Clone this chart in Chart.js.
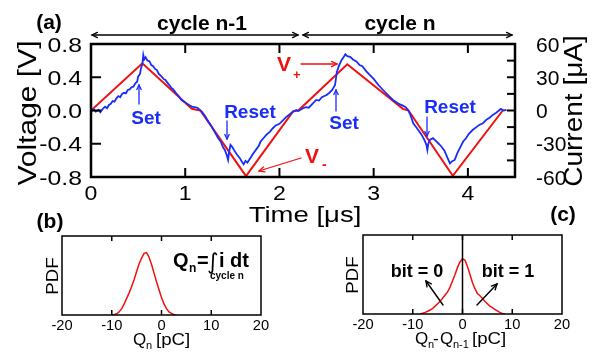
<!DOCTYPE html>
<html lang="en">
<head>
<meta charset="UTF-8">
<title>Voltage / current cycles and charge PDFs</title>
<script src="https://cdn.jsdelivr.net/npm/chart.js"></script>
<style>
    body { margin: 0; background: #fff; }
    .wrap { position: relative; width: 595px; height: 353px; }
    .wrap canvas { position: absolute; left: 0; top: 0; }
</style>
</head>
<body>
<div class="wrap">
    <canvas id="chartA" width="595" height="353"></canvas>
    <canvas id="chartB" width="595" height="353"></canvas>
    <canvas id="chartC" width="595" height="353"></canvas>
</div>
<script>
// ---- data ----
// (a) current trace, time in us, current in uA
const timeI = [0.00, 0.03, 0.05, 0.08, 0.10, 0.12, 0.15, 0.17, 0.19, 0.21, 0.23, 0.25, 0.27, 0.29, 0.31, 0.33, 0.35, 0.37, 0.39, 0.41,
    0.43, 0.45, 0.47, 0.49, 0.50, 0.52, 0.53, 0.545, 0.555, 0.565, 0.58, 0.60, 0.62, 0.64, 0.66, 0.68, 0.70, 0.72, 0.75, 0.77,
    0.79, 0.82, 0.84, 0.855, 0.87, 0.90, 0.93, 0.96, 0.99, 1.02, 1.05, 1.07, 1.10, 1.13, 1.155, 1.18, 1.21, 1.245, 1.27, 1.30,
    1.33, 1.35, 1.38, 1.40, 1.42, 1.44, 1.455, 1.465, 1.48, 1.50, 1.52, 1.55, 1.58, 1.60, 1.62, 1.64, 1.66, 1.69, 1.72, 1.75,
    1.78, 1.80, 1.83, 1.86, 1.90, 1.93, 1.96, 2.00, 2.04, 2.07, 2.10, 2.145, 2.18, 2.20, 2.25, 2.28, 2.31, 2.35, 2.39, 2.42,
    2.45, 2.50, 2.53, 2.56, 2.59, 2.61, 2.63, 2.66, 2.68, 2.70, 2.72, 2.75, 2.78, 2.82, 2.85, 2.88, 2.92, 2.96, 3.00, 3.05,
    3.10, 3.15, 3.205, 3.25, 3.28, 3.31, 3.34, 3.365, 3.39, 3.42, 3.46, 3.51, 3.54, 3.56, 3.57, 3.58, 3.595, 3.63, 3.66, 3.69,
    3.72, 3.75, 3.78, 3.81, 3.83, 3.86, 3.89, 3.92, 3.95, 3.98, 4.01, 4.05, 4.09, 4.12, 4.16, 4.20, 4.23, 4.265, 4.30, 4.33,
    4.35, 4.38, 4.41];
const current = [-1, 1, -1, 0.5, -1.5, 1, 3.5, 2, 5, 6, 8.5, 8, 11, 13, 12, 15, 16, 15.5, 18.5, 19,
    21, 21.5, 24.5, 26, 30.5, 33, 38, 42, 50, 46, 48, 45, 44.5, 41, 40, 37.5, 36.5, 33, 30.5, 28.5,
    27.5, 24, 22, 20, 19.5, 16, 13, 9.5, 8, 6, 4.5, 3.5, 3, 2.5, 0.5, -1.5, -5, -10, -13, -17.5,
    -22, -25, -28.5, -33, -35.6, -40, -44.6, -38, -31, -33, -36, -40, -43, -46, -48.5, -45.5, -47, -43, -39, -35.5,
    -32, -28, -25, -22, -19, -16, -13.5, -12, -8.6, -6, -4, -1, 0.5, -0.5, 2, 3, 2.5, 6, 9.5, 9,
    12, 14, 16, 18.5, 23, 35, 40, 45.6, 48, 50.7, 49, 48.5, 46, 44, 41, 40, 35.5, 32, 28.5, 23,
    18.5, 14, 9.5, 7, 5.5, 4.4, 3, 0.5, -4, -11.5, -16, -22, -27, -31, -35.6, -30, -26.6, -25, -27.5, -30,
    -32.7, -36, -42, -47.7, -46, -44.6, -38, -33, -28, -25, -21, -17.6, -15, -13, -11.5, -8, -6.5, -4, -2, 0,
    1.4, 0, 0.5];
// (a) applied voltage, V
const timeV = [0, 0.545, 1.07, 1.16, 1.645, 2.145, 2.20, 2.72, 3.31, 3.37, 3.84, 4.37];
const voltage = [0, 0.568, 0.02, 0.0, -0.79, -0.01, 0.0, 0.556, 0.02, 0.0, -0.785, 0.0];
const timeTicks = [0, 1, 2, 3, 4];
const voltTicks = [0.8, 0.4, 0.0, -0.4, -0.8];
const voltLabels = ['0.8', '0.4', '0.0', '-0.4', '-0.8'];
const currTicks = [60, 30, 0, -30, -60];
const currMinor = [45, 15, -15, -45];

// (b) PDF of Q_n, (c) PDF of Q_n - Q_n-1 (arbitrary units)
const qBins = [-10, -9.5, -9, -8.5, -8, -7.5, -7, -6.5, -6, -5.5, -5, -4.5, -4, -3.5, -3, -2.5, -2, -1.5, -1, -0.5, 0, 0.5, 1, 1.5, 2, 2.5, 3];
const pdfQ = [0, 0.005, 0.015, 0.04, 0.08, 0.14, 0.21, 0.28, 0.36, 0.45, 0.55, 0.65, 0.72, 0.78, 0.79, 0.73, 0.64, 0.53, 0.42, 0.32, 0.22, 0.14, 0.08, 0.04, 0.02, 0.008, 0];
const dqBins = [-8.5, -8, -7.5, -7, -6.5, -6, -5.5, -5, -4.5, -4, -3.5, -3, -2.5, -2, -1.5, -1, -0.5, 0, 0.5, 1, 1.5, 2, 2.5, 3, 3.5, 4, 4.5, 5, 5.5, 6, 6.5, 7, 7.5, 8, 8.5];
const pdfDq = [0, 0.01, 0.02, 0.035, 0.05, 0.07, 0.10, 0.13, 0.16, 0.20, 0.24, 0.28, 0.34, 0.42, 0.50, 0.59, 0.66, 0.70, 0.68, 0.60, 0.50, 0.40, 0.32, 0.26, 0.23, 0.20, 0.16, 0.13, 0.10, 0.08, 0.06, 0.04, 0.02, 0.008, 0];
const qTicks = [-20, -10, 0, 10, 20];
const qInner = [-10, 0, 10];

const FONT = '"Liberation Sans", Arial, Helvetica, sans-serif';
const BLUE = 'rgb(25,45,250)';
const RED = 'rgb(240,16,16)';

function toXY(xs, ys) { return xs.map((v, i) => ({ x: v, y: ys[i] })); }

// text with optional horizontal stretch and rotation
function txt(ctx, s, x, y, o) {
    ctx.save();
    ctx.font = o.font;
    ctx.fillStyle = o.color || '#000';
    ctx.textBaseline = 'alphabetic';
    ctx.textAlign = o.align || 'left';
    ctx.translate(x, y);
    if (o.rot) ctx.rotate(o.rot);
    ctx.scale(o.sx || 1, 1);
    ctx.fillText(s, 0, 0);
    ctx.restore();
}

function seg(ctx, x1, y1, x2, y2) {
    ctx.beginPath(); ctx.moveTo(x1, y1); ctx.lineTo(x2, y2); ctx.stroke();
}

// line with open arrow head at (x2,y2), optionally also at (x1,y1)
function arrow(ctx, x1, y1, x2, y2, color, lw, head, both) {
    ctx.save();
    ctx.strokeStyle = color; ctx.lineWidth = lw; ctx.lineCap = 'round';
    seg(ctx, x1, y1, x2, y2);
    const tip = (xa, ya, xb, yb) => {
        const ang = Math.atan2(yb - ya, xb - xa);
        ctx.beginPath();
        ctx.moveTo(xb - head * Math.cos(ang - 0.45), yb - head * Math.sin(ang - 0.45));
        ctx.lineTo(xb, yb);
        ctx.lineTo(xb - head * Math.cos(ang + 0.45), yb - head * Math.sin(ang + 0.45));
        ctx.stroke();
    };
    tip(x1, y1, x2, y2);
    if (both) tip(x2, y2, x1, y1);
    ctx.restore();
}

// ---- panel (a) axes and notes ----
const axesA = {
    id: 'axesA',
    afterDraw(chart) {
        const { ctx, chartArea: a } = chart;
        const x = chart.scales.x, y = chart.scales.y, y1 = chart.scales.y1;
        ctx.save();
        ctx.strokeStyle = '#000';
        ctx.lineWidth = 2.5;
        ctx.strokeRect(a.left, a.top, a.right - a.left, a.bottom - a.top);
        ctx.lineWidth = 2;
        const tickFont = '21px ' + FONT;
        timeTicks.forEach(v => {
            const px = x.getPixelForValue(v);
            if (v > 0) { seg(ctx, px, a.bottom, px, a.bottom - 9); seg(ctx, px, a.top, px, a.top + 9); }
            txt(ctx, String(v), px, 200, { font: tickFont, align: 'center', sx: 1.1 });
        });
        voltTicks.forEach((v, i) => {
            const py = y.getPixelForValue(v);
            if (Math.abs(v) < 0.7) seg(ctx, a.left, py, a.left + 10, py);
            txt(ctx, voltLabels[i], 82, py + 7.5, { font: tickFont, align: 'right', sx: 1.18 });
        });
        currTicks.concat(currMinor).forEach(v => {
            const py = y1.getPixelForValue(v);
            if (Math.abs(v) < 55) seg(ctx, a.right, py, a.right - 8, py);
        });
        currTicks.forEach(v => {
            const py = y1.getPixelForValue(v);
            txt(ctx, String(v), 536, py + 7.5, { font: tickFont, align: 'left' });
        });
        // axis titles
        txt(ctx, 'Time [\u03bcs]', 305, 222, { font: '22px ' + FONT, align: 'center', sx: 1.25 });
        txt(ctx, 'Voltage [V]', 36, 113, { font: '25px ' + FONT, align: 'center', rot: -Math.PI / 2, sx: 1.2 });
        txt(ctx, 'Current [\u03bcA]', 582, 111, { font: '25px ' + FONT, align: 'center', rot: -Math.PI / 2, sx: 1.12 });
        // panel label and cycle markers
        const bold20 = 'bold 21px ' + FONT;
        txt(ctx, '(a)', 49, 29, { font: bold20, align: 'center' });
        txt(ctx, 'cycle n-1', 202, 30, { font: bold20, align: 'center' });
        txt(ctx, 'cycle n', 400, 30, { font: bold20, align: 'center' });
        arrow(ctx, 92, 35, 298, 35, '#000', 1.3, 6, true);
        arrow(ctx, 303, 35, 512, 35, '#000', 1.3, 6, true);
        // Set / Reset notes
        const bold19 = 'bold 19px ' + FONT;
        txt(ctx, 'Set', 146, 124, { font: bold19, align: 'center', color: BLUE });
        arrow(ctx, 139, 104, 139, 85, BLUE, 1.3, 5);
        txt(ctx, 'Reset', 250, 118, { font: bold19, align: 'center', color: BLUE });
        arrow(ctx, 227, 121, 227, 139, BLUE, 1.3, 5);
        txt(ctx, 'Set', 344, 129, { font: bold19, align: 'center', color: BLUE });
        arrow(ctx, 336, 111, 336, 90, BLUE, 1.3, 5);
        txt(ctx, 'Reset', 450, 113, { font: bold19, align: 'center', color: BLUE });
        arrow(ctx, 427, 117, 427, 136, BLUE, 1.3, 5);
        // V+ and V- notes
        txt(ctx, 'V', 277, 71, { font: 'bold 21px ' + FONT, color: RED });
        txt(ctx, '+', 293, 79, { font: 'bold 13px ' + FONT, color: RED });
        arrow(ctx, 301, 64, 337, 64, RED, 1.3, 6);
        txt(ctx, 'V', 305, 163, { font: 'bold 21px ' + FONT, color: RED });
        txt(ctx, '-', 322, 169, { font: 'bold 14px ' + FONT, color: RED });
        arrow(ctx, 301, 158, 259, 171, RED, 1.3, 6);
        ctx.restore();
    }
};

// ---- panels (b) and (c) shared frame ----
function smallAxes(ctx, chart, xLabelY) {
    const a = chart.chartArea, x = chart.scales.x;
    ctx.strokeStyle = '#000';
    ctx.lineWidth = 1.5;
    ctx.strokeRect(a.left, a.top, a.right - a.left, a.bottom - a.top);
    qInner.forEach(v => {
        const px = x.getPixelForValue(v);
        seg(ctx, px, a.bottom, px, a.bottom - 5);
        seg(ctx, px, a.top, px, a.top + 5);
    });
    qTicks.forEach(v => {
        txt(ctx, String(v), x.getPixelForValue(v), xLabelY, { font: '14px ' + FONT, align: 'center', sx: 1.05 });
    });
}

const axesB = {
    id: 'axesB',
    afterDraw(chart) {
        const ctx = chart.ctx;
        ctx.save();
        smallAxes(ctx, chart, 330);
        txt(ctx, '(b)', 50, 228, { font: 'bold 21px ' + FONT, align: 'center' });
        txt(ctx, 'PDF', 58, 276, { font: '17px ' + FONT, align: 'center', rot: -Math.PI / 2, sx: 1.1 });
        txt(ctx, 'Q', 133, 345, { font: '17px ' + FONT });
        txt(ctx, 'n', 146, 349, { font: '11px ' + FONT });
        txt(ctx, '[pC]', 156, 345, { font: '17px ' + FONT, sx: 1.1 });
        // Q_n = integral of i dt over cycle n
        const b20 = 'bold 20px ' + FONT;
        txt(ctx, 'Q', 173, 267, { font: b20 });
        txt(ctx, 'n', 189, 272, { font: 'bold 12px ' + FONT });
        txt(ctx, '=', 197, 267, { font: b20 });
        txt(ctx, '\u222b', 207, 269, { font: '22px "DejaVu Sans", sans-serif' });
        txt(ctx, 'i', 219, 267, { font: b20 });
        txt(ctx, 'dt', 230, 267, { font: b20 });
        txt(ctx, 'cycle n', 210, 279, { font: 'bold 10px ' + FONT });
        ctx.restore();
    }
};

const axesC = {
    id: 'axesC',
    afterDraw(chart) {
        const ctx = chart.ctx, a = chart.chartArea, x = chart.scales.x;
        ctx.save();
        smallAxes(ctx, chart, 329);
        ctx.lineWidth = 1.5;
        const p0 = x.getPixelForValue(0);
        seg(ctx, p0, a.top, p0, a.bottom);
        txt(ctx, '(c)', 563, 221, { font: 'bold 21px ' + FONT, align: 'center' });
        txt(ctx, 'PDF', 358, 275, { font: '17px ' + FONT, align: 'center', rot: -Math.PI / 2, sx: 1.1 });
        txt(ctx, 'Q', 415, 344, { font: '17px ' + FONT });
        txt(ctx, 'n', 428, 348, { font: '11px ' + FONT });
        txt(ctx, '-', 433, 344, { font: '17px ' + FONT });
        txt(ctx, 'Q', 440, 344, { font: '17px ' + FONT });
        txt(ctx, 'n-1', 453, 348, { font: '11px ' + FONT });
        txt(ctx, '[pC]', 472, 344, { font: '17px ' + FONT, sx: 1.1 });
        txt(ctx, 'bit = 0', 417, 277, { font: 'bold 18px ' + FONT, align: 'center' });
        txt(ctx, 'bit = 1', 508, 277, { font: 'bold 18px ' + FONT, align: 'center' });
        arrow(ctx, 443, 305, 426, 281, '#000', 1.4, 6);
        arrow(ctx, 477, 305, 497, 284, '#000', 1.4, 6);
        ctx.restore();
    }
};

function baseOptions(pad) {
    return {
        responsive: false,
        animation: false,
        devicePixelRatio: 1,
        layout: { padding: pad },
        plugins: { legend: { display: false }, tooltip: { enabled: false } },
        elements: { point: { radius: 0 }, line: { tension: 0 } }
    };
}

// Panel (a)
const optA = baseOptions({ left: 91, top: 44, right: 80, bottom: 176 });
optA.scales = {
    x: { type: 'linear', min: 0, max: 4.5, display: false },
    y: { min: -0.8, max: 0.8, display: false },
    y1: { min: -60, max: 60, display: false, position: 'right' }
};
new Chart(document.getElementById('chartA'), {
    type: 'line',
    data: {
        datasets: [
            { label: 'Current', data: toXY(timeI, current), yAxisID: 'y1', borderColor: BLUE, borderWidth: 1.8 },
            { label: 'Voltage', data: toXY(timeV, voltage), yAxisID: 'y', borderColor: RED, borderWidth: 2 }
        ]
    },
    options: optA,
    plugins: [axesA]
});

// Panel (b)
const optB = baseOptions({ left: 62, top: 236, right: 334, bottom: 38 });
optB.scales = {
    x: { type: 'linear', min: -20, max: 20, display: false },
    y: { min: 0, max: 1, display: false }
};
new Chart(document.getElementById('chartB'), {
    type: 'line',
    data: { datasets: [{ data: toXY(qBins, pdfQ), borderColor: RED, borderWidth: 1.5 }] },
    options: optB,
    plugins: [axesB]
});

// Panel (c)
const optC = baseOptions({ left: 363, top: 235, right: 33, bottom: 39 });
optC.scales = {
    x: { type: 'linear', min: -20, max: 20, display: false },
    y: { min: 0, max: 1, display: false }
};
new Chart(document.getElementById('chartC'), {
    type: 'line',
    data: { datasets: [{ data: toXY(dqBins, pdfDq), borderColor: RED, borderWidth: 1.5 }] },
    options: optC,
    plugins: [axesC]
});
</script>
</body>
</html>
